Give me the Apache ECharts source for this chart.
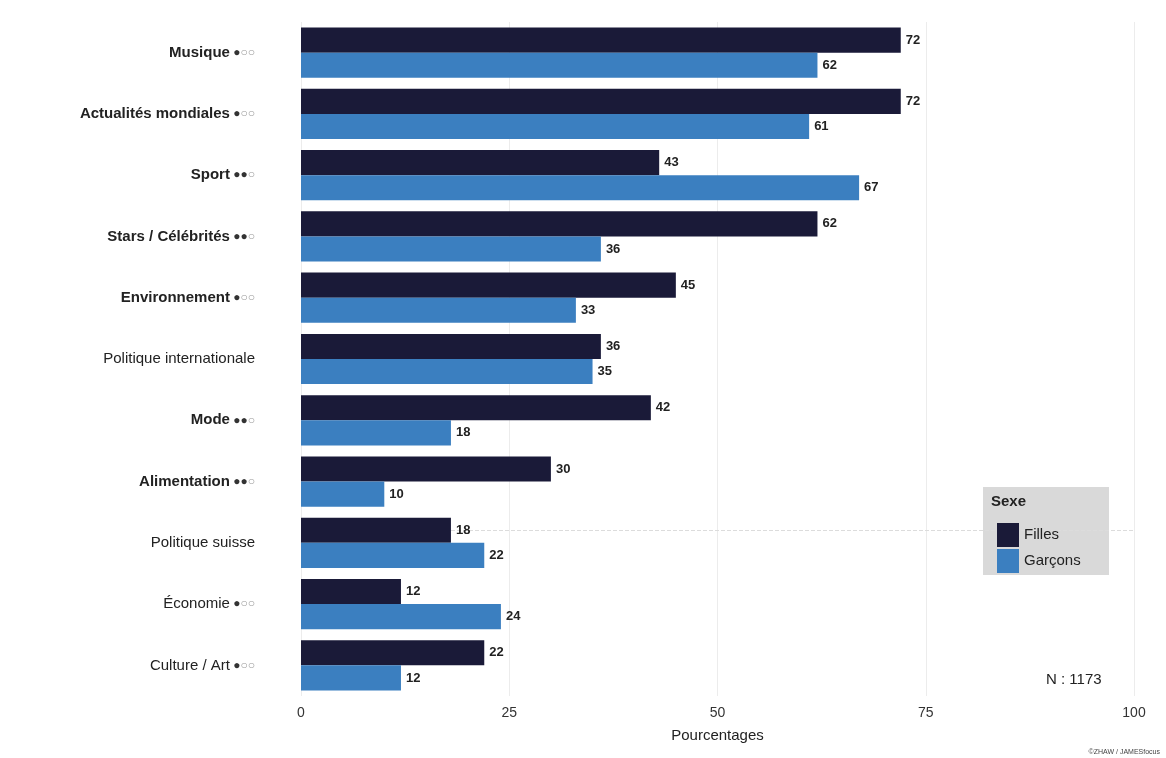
<!DOCTYPE html>
<html>
<head>
<meta charset="utf-8">
<script src="https://cdn.jsdelivr.net/npm/echarts@6/dist/echarts.min.js"></script>
<style>html,body{margin:0;padding:0;background:#fff}#c{width:1166px;height:758px}</style>
</head>
<body>
<div id="c"></div>
<script>
const categories = ['Musique','Actualités mondiales','Sport','Stars / Célébrités','Environnement','Politique internationale','Mode','Alimentation','Politique suisse','Économie','Culture / Art'];
const dots = [1,1,2,2,1,0,2,2,0,1,1];
const boldLabel = [true,true,true,true,true,false,true,true,false,false,false];
const filles = [72,72,43,62,45,36,42,30,18,12,22];
const garcons = [62,61,67,36,33,35,18,10,22,24,12];
const xTicks = [0,25,50,75,100];
const seriesNames = ['Filles','Garçons'];
const colors = ['#1a1a38','#3b7fc0'];

const chart = echarts.init(document.getElementById('c'));
const idx = {};
categories.forEach((c,i)=>idx[c]=i);
const valLabel = {show:true, position:'right', distance:5, color:'#222', fontSize:13, fontFamily:'Liberation Sans, Arial, sans-serif', fontWeight:'bold'};
chart.setOption({
  animation:false,
  textStyle:{fontFamily:'Liberation Sans, Arial, sans-serif'},
  grid:{left:301, right:32, top:22, bottom:62, containLabel:false},
  xAxis:{type:'value', min:0, max:100, interval:25,
    axisLine:{show:false}, axisTick:{show:false},
    axisLabel:{color:'#333', fontSize:14, margin:10, formatter:v=>xTicks.includes(v)?String(v):''},
    splitLine:{show:true, lineStyle:{color:'#ececec', width:1}},
    name:'Pourcentages', nameLocation:'middle', nameGap:32, nameTextStyle:{color:'#222', fontSize:15}
  },
  yAxis:{type:'category', data:categories, inverse:true,
    axisLine:{show:false}, axisTick:{show:false},
    splitLine:{show:false},
    axisLabel:{margin:46, formatter:(v)=>{
      const i=idx[v]; const n=dots[i];
      let s = (boldLabel[i]?'{b|':'{r|')+v+'}';
      if(n>0){ s += ' {f|'+'●'.repeat(n)+'}{h|'+'○'.repeat(3-n)+'}'; }
      return s;
    }, rich:{
      b:{fontSize:15, fontWeight:'bold', color:'#222'},
      r:{fontSize:15, color:'#222'},
      f:{fontSize:12, color:'#333'},
      h:{fontSize:12, color:'#999'}
    }}
  },
  legend:{data:seriesNames, orient:'vertical', left:992, top:518, itemGap:2, itemWidth:22, itemHeight:24,
    icon:'rect', textStyle:{fontSize:15, color:'#222'}},
  graphic:[
    {type:'rect', left:983, top:487, shape:{width:126, height:88}, style:{fill:'#d9d9d9'}, z:-1},
    {type:'text', left:991, top:494, style:{text:'Sexe', fontSize:15, fontWeight:'bold', fill:'#222'}},
    {type:'text', left:1046, top:672, style:{text:'N : 1173', fontSize:15, fill:'#222'}},
    {type:'text', right:6, top:749, style:{text:'©ZHAW / JAMESfocus', fontSize:7, fill:'#444'}}
  ],
  series:[
    {name:seriesNames[0], type:'bar', data:filles, barGap:'0%', barCategoryGap:'18%', itemStyle:{color:colors[0]}, label:valLabel, z:2,
     markLine:{silent:true, z:1, symbol:'none', label:{show:false}, lineStyle:{color:'#dcdcdc', type:'dashed', width:1}, data:[{yAxis:'Politique suisse'}]}},
    {name:seriesNames[1], type:'bar', data:garcons, barGap:'0%', barCategoryGap:'18%', itemStyle:{color:colors[1]}, label:valLabel, z:2}
  ]
});
</script>
</body>
</html>
